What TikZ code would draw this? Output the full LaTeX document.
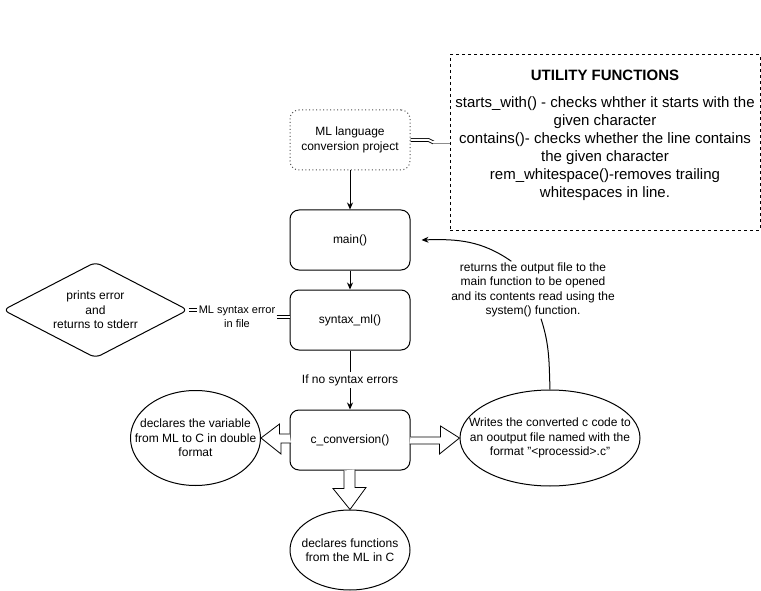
\documentclass[tikz,border=0pt]{standalone}
\usepackage{fontspec}
\setmainfont{Liberation Sans}
\usetikzlibrary{shapes.geometric,arrows.meta}

\begin{document}
\begin{tikzpicture}[x=1pt,y=-1pt,line width=1pt,
  >={Stealth[length=7pt,width=6pt]},
  every node/.style={font=\fontsize{12}{14.4}\selectfont,align=center},
  proc/.style={draw,rounded corners=9pt,minimum width=120pt,minimum height=60pt,inner sep=0pt},
  bub/.style={draw,ellipse,inner sep=0pt},
  blockarr/.style={draw,fill=white,line width=0.8pt},
  linkline/.style={double,double distance=2pt,line width=0.8pt}]
\useasboundingbox (0,0) rectangle (761,591);

\node[proc,dash pattern=on 1pt off 2.5pt,draw=black!70] (ml) at (350,140) {ML language\\conversion project};
\node[proc] (main) at (350,240) {main()};
\node[proc] (syn) at (350,320) {syntax\_ml()};
\node[proc] (conv) at (350,440) {c\_conversion()};
\node[bub,minimum width=120pt,minimum height=80pt,label={center:declares functions\\from the ML in C}] (decl) at (350,550) {};
\node[bub,minimum width=130pt,minimum height=95pt,label={center:declares the variable\\from ML to C in double\\format}] (vard) at (195.5,438) {};
\node[bub,minimum width=180pt,minimum height=96pt,label={center:Writes the converted c code to\\an ooutput file named with the\\format "<processid>.c"}] (wr) at (550,438) {};
\node[draw,diamond,aspect=2,rounded corners=6pt,minimum width=185pt,minimum height=96pt,inner sep=0pt] (err) at (95.5,310) {prints error\\and\\returns to stderr};

% utility box
\node[draw,dash pattern=on 3pt off 3pt,minimum width=310pt,minimum height=175pt] (util) at (605,142.5) {};
\node[font=\bfseries\fontsize{15}{18}\selectfont] (utitle) at (605,75) {UTILITY FUNCTIONS};
\node[font=\fontsize{15}{18}\selectfont,inner sep=0pt] (ubody) at (605,149) {starts\_with() - checks whther it starts with the\\given character\\contains()- checks whether the line contains\\the given character\\rem\_whitespace()-removes trailing\\whitespaces in line.};

\draw[->] (ml) -- (main);
\draw[->] (main) -- (syn);
\draw[->] (syn) -- node[fill=white,inner sep=2pt] (noerr) {If no syntax errors} (conv);

\node[font=\fontsize{11}{13.5}\selectfont,inner sep=1pt] (synlbl) at (237,317) {ML syntax error\\in file};
\draw[linkline] (err.east) -- (synlbl.west |- err.east);
\draw[linkline] (synlbl.east) -- (synlbl.east -| syn.west);

\draw[linkline] (ml.east) -- ++(18,0) to[out=0,in=180] ++(5,2.5);
\draw[linkline,draw=black!45] (util.west) ++(-17,0) -- (util.west);

\node[inner sep=1pt] (retlbl) at (533,290) {returns the output file to the\\main function to be opened\\and its contents read using the\\system() function.};
\draw (wr.north) to[out=92,in=-72] ([xshift=8pt]retlbl.south);
\draw[->] (retlbl.127) to[out=145,in=2] ([xshift=11pt]main.east);

% block arrows
\draw[blockarr] (conv.west) ++(0,-6) -- ++(-10,0) -- ++(0,-10) -- (vard.east) -- ++(20,16) -- ++(0,-11) -- ++(10,0);
\draw[blockarr] (conv.east) ++(0,-3) -- ++(30,0) -- ++(0,-11) -- (wr.west) -- ++(-20,16) -- ++(0,-10) -- ++(-30,0);
\draw[blockarr] (conv.south) ++(-6,0) -- ++(0,18) -- ++(-11,0) -- (decl.north) -- ++(16,-22) -- ++(-11,0) -- ++(0,-18);
\end{tikzpicture}
\end{document}
